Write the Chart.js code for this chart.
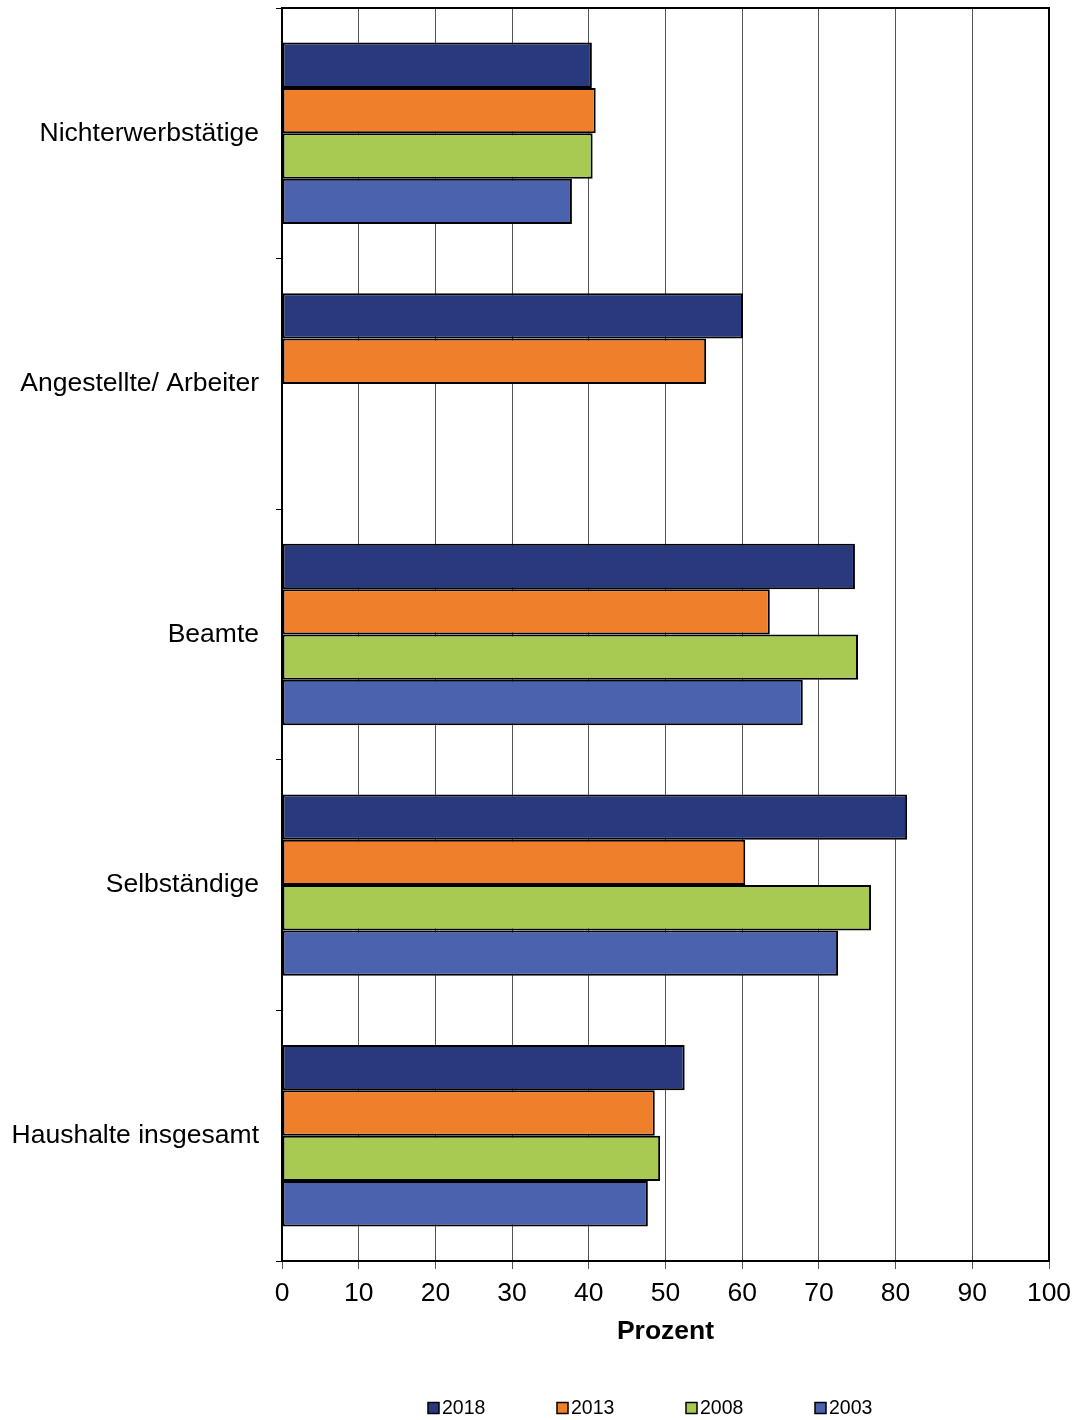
<!DOCTYPE html>
<html>
<head>
<meta charset="utf-8">
<script src="https://cdn.jsdelivr.net/npm/chart.js@4"></script>
<style>
  html, body { margin: 0; padding: 0; background: #fff; }
  #wrap { width: 1077px; height: 1420px; }
</style>
</head>
<body>
<div id="wrap"><canvas id="chart" width="1077" height="1420"></canvas></div>
<script>
/* Chart data */
const categories = ['Nichterwerbstätige', 'Angestellte/ Arbeiter', 'Beamte', 'Selbständige', 'Haushalte insgesamt'];
const years = ['2018', '2013', '2008', '2003'];
const v2018 = [40.4, 60.1, 74.7, 81.5, 52.5];
const v2013 = [40.9, 55.3, 63.6, 60.4, 48.6];
const v2008 = [40.5, null, 75.1, 76.8, 49.3];
const v2003 = [37.8, null, 67.9, 72.5, 47.7];
const xTicks = [0, 10, 20, 30, 40, 50, 60, 70, 80, 90, 100];

const COLORS = ['#283a7d', '#f07f2c', '#a8c952', '#4b63ae'];
const FONT = "'Liberation Sans', Arial, sans-serif";

Chart.defaults.font.family = FONT;
Chart.defaults.color = '#000';

/* black frame around the plot */
const framePlugin = {
  id: 'frame',
  afterDraw(chart) {
    const { ctx, chartArea: a } = chart;
    ctx.save();
    ctx.strokeStyle = '#000';
    ctx.lineWidth = 2;
    ctx.beginPath();
    ctx.moveTo(a.left, a.top);
    ctx.lineTo(a.right, a.top);
    ctx.lineTo(a.right, a.bottom);
    ctx.stroke();
    ctx.restore();
  }
};

/* legend row at the bottom */
const legendPlugin = {
  id: 'bottomLegend',
  afterDraw(chart) {
    const ctx = chart.ctx;
    ctx.save();
    ctx.font = '19.5px ' + FONT;
    ctx.textBaseline = 'middle';
    chart.data.datasets.forEach((ds, i) => {
      const x = 428 + i * 129;
      const y = 1408;
      ctx.fillStyle = ds.backgroundColor;
      ctx.fillRect(x, y - 5.5, 11, 11);
      ctx.strokeStyle = '#000';
      ctx.lineWidth = 1.5;
      ctx.strokeRect(x, y - 5.5, 11, 11);
      ctx.fillStyle = '#000';
      ctx.fillText(ds.label, x + 14, y + 1);
    });
    ctx.restore();
  }
};

const series = [v2018, v2013, v2008, v2003];

new Chart(document.getElementById('chart'), {
  type: 'bar',
  data: {
    labels: categories,
    datasets: years.map((y, i) => ({
      label: y,
      data: series[i],
      backgroundColor: COLORS[i],
      borderColor: '#000',
      borderWidth: 2,
      borderSkipped: false,
      categoryPercentage: 0.724,
      barPercentage: 1.0,
    })),
  },
  options: {
    indexAxis: 'y',
    responsive: false,
    animation: false,
    layout: { padding: { top: 8, right: 28, left: 0, bottom: 0 } },
    plugins: {
      legend: { display: false },
      tooltip: { enabled: false },
    },
    scales: {
      x: {
        min: 0,
        max: 100,
        afterBuildTicks: s => { s.ticks = xTicks.map(v => ({ value: v })); },
        afterFit: s => { s.height = 159; s.paddingLeft = 0; s.paddingRight = 0; },
        grid: { color: '#555', lineWidth: 1, tickLength: 8, drawTicks: true },
        border: { color: '#000', width: 2 },
        ticks: { font: { size: 26.5 }, color: '#000', padding: 9, maxRotation: 0 },
        title: {
          display: true,
          text: 'Prozent',
          font: { size: 26.5, weight: 'bold' },
          color: '#000',
          padding: { top: 0, bottom: 72 },
        },
      },
      y: {
        afterFit: s => { s.width = 282; s.paddingTop = 0; s.paddingBottom = 0; },
        grid: { drawOnChartArea: false, color: '#000', tickLength: 6, offset: true },
        border: { color: '#000', width: 2 },
        ticks: { font: { size: 26.5 }, color: '#000', padding: 17 },
      },
    },
  },
  plugins: [framePlugin, legendPlugin],
});
</script>
</body>
</html>
